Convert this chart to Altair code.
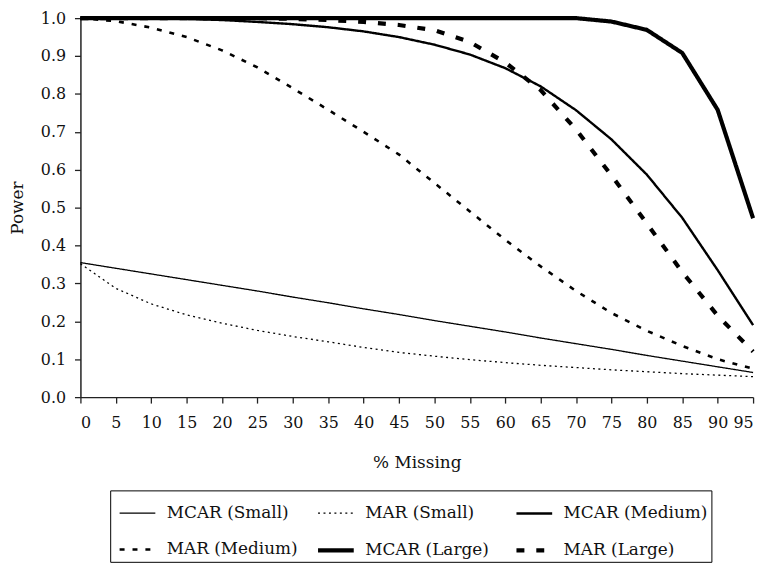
import altair as alt
import pandas as pd

pct_missing = [0, 5, 10, 15, 20, 25, 30, 35, 40, 45, 50, 55, 60, 65, 70, 75, 80, 85, 90, 95]

mcar_small = [0.355, 0.340, 0.325, 0.310, 0.295, 0.280, 0.264, 0.249, 0.233, 0.218,
              0.202, 0.187, 0.172, 0.156, 0.141, 0.126, 0.110, 0.095, 0.080, 0.065]
mar_small = [0.352, 0.287, 0.246, 0.217, 0.195, 0.176, 0.160, 0.146, 0.131, 0.118,
             0.108, 0.099, 0.091, 0.084, 0.078, 0.072, 0.067, 0.062, 0.058, 0.054]
mcar_medium = [1.0, 1.0, 0.999, 0.998, 0.995, 0.990, 0.984, 0.976, 0.965, 0.950,
               0.930, 0.904, 0.868, 0.820, 0.757, 0.680, 0.587, 0.473, 0.335, 0.190]
mar_medium = [1.0, 0.992, 0.975, 0.950, 0.915, 0.870, 0.815, 0.758, 0.700, 0.640,
              0.565, 0.490, 0.415, 0.345, 0.280, 0.222, 0.175, 0.135, 0.100, 0.075]
mcar_large = [1.0, 1.0, 1.0, 1.0, 1.0, 1.0, 1.0, 1.0, 1.0, 1.0,
              1.0, 1.0, 1.0, 1.0, 1.0, 0.991, 0.969, 0.908, 0.758, 0.472]
mar_large = [1.0, 1.0, 1.0, 1.0, 1.0, 1.0, 0.998, 0.995, 0.990, 0.982,
             0.968, 0.937, 0.883, 0.810, 0.706, 0.585, 0.458, 0.330, 0.215, 0.120]

series_names = ["MCAR (Small)", "MAR (Small)", "MCAR (Medium)",
                "MAR (Medium)", "MCAR (Large)", "MAR (Large)"]
series_values = [mcar_small, mar_small, mcar_medium, mar_medium, mcar_large, mar_large]

rows = []
for name, vals in zip(series_names, series_values):
    for x, v in zip(pct_missing, vals):
        rows.append({"pct": x, "power": v, "series": name})
df = pd.DataFrame(rows)

dashes = [[1, 0], [2, 3.5], [1, 0], [5, 8], [1, 0], [8, 12]]
widths = [1.3, 1.3, 2.4, 2.6, 4.2, 4.2]

font = "DejaVu Serif"

chart = alt.Chart(df).mark_line(interpolate="linear").encode(
    x=alt.X("pct:Q", title="% Missing",
            scale=alt.Scale(domain=[0, 95], nice=False, zero=False),
            axis=alt.Axis(values=pct_missing, format="d", labelPadding=12,
                          titlePadding=24)),
    y=alt.Y("power:Q", title="Power",
            scale=alt.Scale(domain=[0, 1], nice=False),
            axis=alt.Axis(values=[i / 10 for i in range(11)], format=".1f",
                          labelPadding=9, titlePadding=14)),
    color=alt.Color("series:N", scale=alt.Scale(domain=series_names, range=["black"] * 6),
                    legend=alt.Legend(title=None)),
    strokeDash=alt.StrokeDash("series:N", scale=alt.Scale(domain=series_names, range=dashes),
                              legend=alt.Legend(title=None)),
    strokeWidth=alt.StrokeWidth("series:N",
                                scale=alt.Scale(type="ordinal", domain=series_names, range=widths),
                                legend=alt.Legend(title=None)),
    order=alt.Order("pct:Q"),
).properties(
    width=678,
    height=382,
    autosize=alt.AutoSizeParams(type="none"),
    padding={"left": 73, "top": 8, "right": 10, "bottom": 169},
).configure_view(
    stroke=None
).configure_axis(
    grid=False,
    labelFont=font,
    labelFontSize=16,
    labelColor="#111",
    titleFont=font,
    titleFontSize=17,
    titleFontWeight="normal",
    titleColor="#111",
    domainColor="#222",
    domainWidth=1.5,
    tickColor="#222",
    tickWidth=1.3,
    tickSize=6,
).configure_legend(
    orient="none",
    legendX=30,
    legendY=476,
    direction="horizontal",
    columns=3,
    gridAlign="all",
    strokeColor="black",
    padding=3,
    symbolOffset=4,
    symbolType="stroke",
    symbolSize=1296,
    labelFont=font,
    labelFontSize=17,
    labelColor="#111",
    labelOffset=9,
    columnPadding=-6,
    rowPadding=8,
    labelLimit=300,
)

chart.save("out.html", embed_options={"renderer": "svg", "actions": False})
